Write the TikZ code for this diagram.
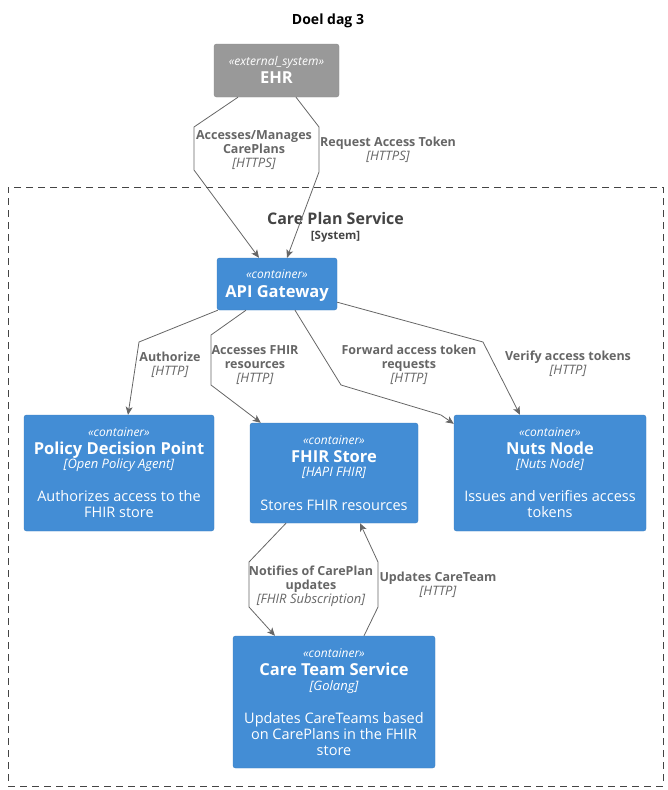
\documentclass[tikz,border=0pt]{standalone}
\usepackage{fontspec}
\setmainfont{Open Sans}
\usepackage{xcolor}
\usepackage{tikz}
\usetikzlibrary{positioning,arrows.meta}
\definecolor{BoxBlue}{HTML}{438DD5}
\definecolor{BoxBlueLine}{HTML}{3C7FC0}
\definecolor{ExtGray}{HTML}{999999}
\definecolor{ExtGrayLine}{HTML}{8A8A8A}
\definecolor{RelGray}{HTML}{666666}
\definecolor{Ink}{HTML}{444444}
\newcommand{\reltech}[1]{{\fontsize{13}{14}\selectfont\mdseries\itshape #1}}
\tikzset{
  cont/.style={draw=BoxBlueLine, fill=BoxBlue, rounded corners=2.5pt, inner sep=0pt},
  ext/.style={draw=ExtGrayLine, fill=ExtGray, rounded corners=2.5pt, inner sep=0pt},
  stereo/.style={white, anchor=base, inner sep=0pt, font=\fontsize{12}{14}\selectfont\itshape},
  cname/.style={white, anchor=base, inner sep=0pt, font=\fontsize{16.5}{19}\selectfont\bfseries},
  ctech/.style={white, anchor=base, inner sep=0pt, font=\fontsize{13}{14}\selectfont\itshape},
  cdesc/.style={white, anchor=base, inner sep=0pt, align=center, font=\fontsize{14.5}{16}\selectfont},
  rel/.style={RelGray, line width=0.8pt, -{Stealth[length=8pt,width=7pt,inset=2pt]}},
  rlabel/.style={RelGray, anchor=base, inner sep=0pt, align=center, font=\fontsize{12.5}{14}\selectfont\bfseries},
}

\begin{document}
\begin{tikzpicture}[x=1pt, y=-1pt]
\useasboundingbox (0,0) rectangle (668,790);

\node[font=\fontsize{14}{16}\selectfont\bfseries, anchor=base] (title) at (328,24) {Doel dag 3};

% system boundary
\node[draw=Ink, dash pattern=on 7pt off 5pt, minimum width=655, minimum height=599, inner sep=0pt] (cps) at (335.5,486.5) {};
\node[Ink, anchor=base, font=\fontsize{16}{19}\selectfont\bfseries] (cps-nm) at ([yshift=-38pt]cps.north) {Care Plan Service};
\node[Ink, anchor=base, font=\fontsize{11.5}{14}\selectfont\bfseries] (cps-st) at ([yshift=-53pt]cps.north) {[System]};

% external system
\node[ext, minimum width=125, minimum height=53] (ehr) at (276.5,70.5) {};
\node[stereo] (ehr-st) at ([yshift=-22pt]ehr.north) {«external\_system»};
\node[cname] (ehr-nm) at ([yshift=-40pt]ehr.north) {EHR};

% containers
\node[cont, minimum width=120, minimum height=52] (api) at (277,284) {};
\node[stereo] (api-st) at ([yshift=-21pt]api.north) {«container»};
\node[cname] (api-nm) at ([yshift=-40pt]api.north) {API Gateway};

\node[cont, minimum width=190, minimum height=116] (pdp) at (119,473) {};
\node[stereo] (pdp-st) at ([yshift=-22pt]pdp.north) {«container»};
\node[cname] (pdp-nm) at ([yshift=-40pt]pdp.north) {Policy Decision Point};
\node[ctech] (pdp-tc) at ([yshift=-54pt]pdp.north) {[Open Policy Agent]};
\node[cdesc] (pdp-ds) at ([yshift=-103pt]pdp.north) {Authorizes access to the\\FHIR store};

\node[cont, minimum width=168, minimum height=100] (fhir) at (334,473) {};
\node[stereo] (fhir-st) at ([yshift=-22pt]fhir.north) {«container»};
\node[cname] (fhir-nm) at ([yshift=-40pt]fhir.north) {FHIR Store};
\node[ctech] (fhir-tc) at ([yshift=-54pt]fhir.north) {[HAPI FHIR]};
\node[cdesc] (fhir-ds) at ([yshift=-88pt]fhir.north) {Stores FHIR resources};

\node[cont, minimum width=192, minimum height=116] (nuts) at (550,473) {};
\node[stereo] (nuts-st) at ([yshift=-22pt]nuts.north) {«container»};
\node[cname] (nuts-nm) at ([yshift=-40pt]nuts.north) {Nuts Node};
\node[ctech] (nuts-tc) at ([yshift=-54pt]nuts.north) {[Nuts Node]};
\node[cdesc] (nuts-ds) at ([yshift=-103pt]nuts.north) {Issues and verifies access\\tokens};

\node[cont, minimum width=202, minimum height=132] (cts) at (334,702) {};
\node[stereo] (cts-st) at ([yshift=-22pt]cts.north) {«container»};
\node[cname] (cts-nm) at ([yshift=-40pt]cts.north) {Care Team Service};
\node[ctech] (cts-tc) at ([yshift=-55pt]cts.north) {[Golang]};
\node[cdesc] (cts-ds) at ([yshift=-120pt]cts.north) {Updates CareTeams based\\on CarePlans in the FHIR\\store};

% relations
\draw[rel] ([xshift=-38.5pt]ehr.south) -- (194,127) -- (194,170) -- ([xshift=-18pt]api.north);
\node[rlabel] (l-manage) at (254,167) {Accesses/Manages\\CarePlans\\\reltech{[HTTPS]}};

\draw[rel] ([xshift=19.5pt]ehr.south) -- (319,127) -- (319,172) -- ([xshift=10pt]api.north);
\node[rlabel] (l-token) at (388,160) {Request Access Token\\\reltech{[HTTPS]}};

\draw[rel] ([xshift=1pt]api.south west) -- (139,342) -- ([xshift=9pt]pdp.north);
\node[rlabel] (l-auth) at (170,375) {Authorize\\\reltech{[HTTP]}};

\draw[rel] ([xshift=-31pt]api.south) -- (211,335) -- (211,385) -- ([xshift=11pt]fhir.north west);
\node[rlabel] (l-fhir) at (255,382) {Accesses FHIR\\resources\\\reltech{[HTTP]}};

\draw[rel] ([xshift=18pt]api.south) -- (341,385) -- (441,415) -- ([yshift=-9pt]nuts.north west);
\node[rlabel] (l-fwd) at (409,382) {Forward access token\\requests\\\reltech{[HTTP]}};

\draw[rel] ([yshift=8pt]api.south east) -- (483,342) -- ([xshift=-30pt]nuts.north);
\node[rlabel] (l-verify) at (568,374) {Verify access tokens\\\reltech{[HTTP]}};

\draw[rel] ([xshift=-48pt]fhir.south) -- (249,562) -- (249,607) -- ([xshift=-59pt]cts.north);
\node[rlabel] (l-notify) at (311,603) {Notifies of CarePlan\\updates\\\reltech{[FHIR Subscription]}};

\draw[rel] ([xshift=30pt]cts.north) -- (378,607) -- (378,562) -- ([xshift=26pt]fhir.south);
\node[rlabel] (l-update) at (438,595) {Updates CareTeam\\\reltech{[HTTP]}};
\end{tikzpicture}
\end{document}
